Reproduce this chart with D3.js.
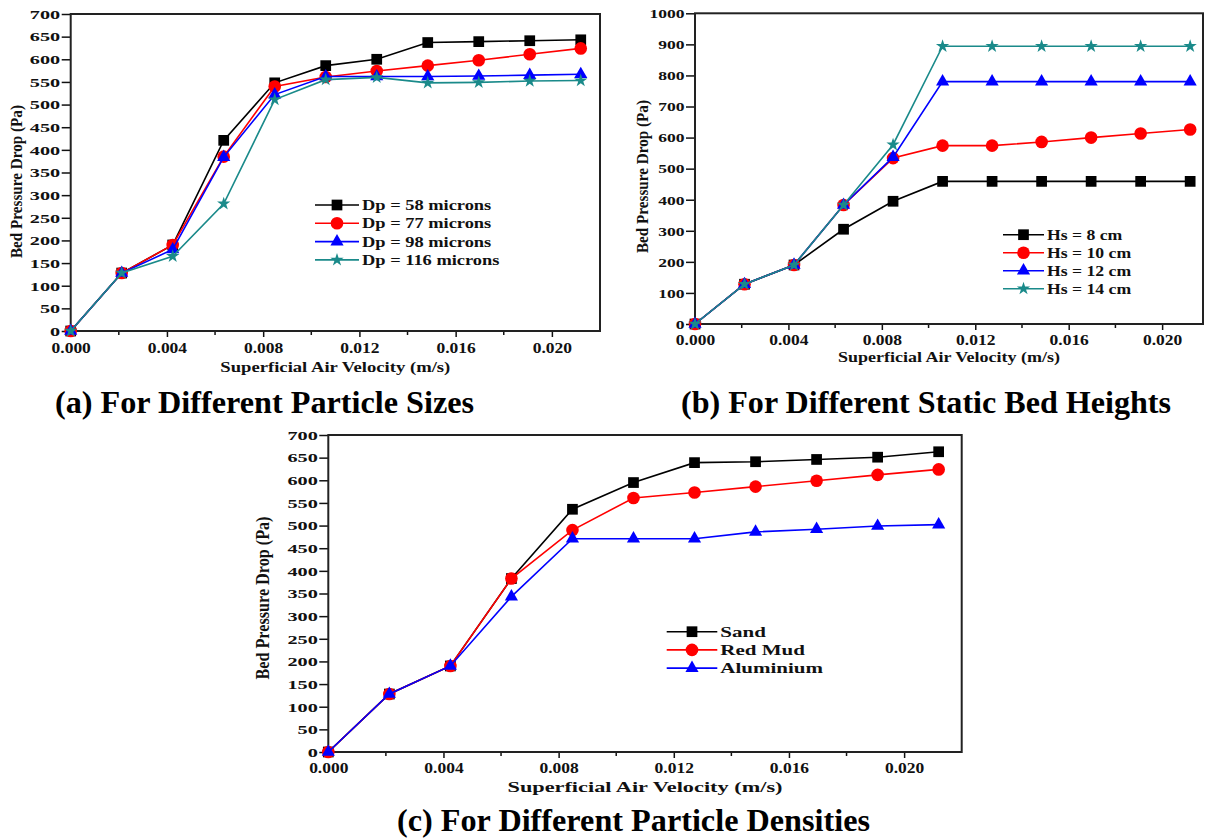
<!DOCTYPE html>
<html>
<head>
<meta charset="utf-8">
<script src="https://cdn.jsdelivr.net/npm/d3@7"></script>
<style>
  body { margin: 0; background: #fff; }
  svg text { font-family: "Liberation Serif", "Times New Roman", serif; }
</style>
</head>
<body>
<div id="chart"></div>
<script>
// superficial air velocity (m/s), shared by all three panels
const velocity = [0, 0.00212, 0.00424, 0.00636, 0.00848, 0.0106, 0.01272, 0.01484, 0.01696, 0.01908, 0.0212];

// (a) particle sizes
const dp58  = [0, 128, 190, 421, 548, 586, 600, 637, 639, 641, 643];
const dp77  = [0, 128, 190, 385, 540, 561, 574, 586, 598, 611, 624];
const dp98  = [0, 128, 180, 384, 522, 562, 562, 562, 563, 565, 567];
const dp116 = [0, 128, 165, 281, 511, 555, 560, 548, 549, 552, 553];

// (b) static bed heights
const hs8  = [0, 128, 190, 305, 395, 459, 459, 459, 459, 459, 459];
const hs10 = [0, 128, 190, 383, 534, 574, 574, 586, 600, 613, 626];
const hs12 = [0, 128, 190, 383, 537, 780, 780, 780, 780, 780, 780];
const hs14 = [0, 128, 190, 383, 577, 894, 894, 894, 894, 894, 894];

// (c) particle densities
const sand      = [0, 128, 190, 383, 536, 595, 639, 641, 646, 651, 663];
const redMud    = [0, 128, 190, 383, 490, 561, 573, 586, 599, 612, 624];
const aluminium = [0, 128, 190, 343, 471, 471, 471, 486, 492, 499, 502];

const xTicks = [0, 0.004, 0.008, 0.012, 0.016, 0.020];
const xMinorTicks = [0.002, 0.006, 0.010, 0.014, 0.018];

const FONT = '"Liberation Serif","Times New Roman",serif';
const TEAL = "#1a8a8a";

const svg = d3.select("#chart")
  .append("svg")
    .attr("width", 1205)
    .attr("height", 840)
    .style("background", "#fff");

function drawPanel(p) {
  const x = d3.scaleLinear().domain([0, p.xMax]).range([p.left, p.right]);
  const y = d3.scaleLinear().domain([0, p.yMax]).range([p.bottom, p.top]);
  const g = svg.append("g");

  // x axis
  const xAxis = g.append("g")
    .attr("transform", `translate(0,${p.bottom})`)
    .call(d3.axisBottom(x).tickValues(xTicks).tickFormat(d3.format(".3f")).tickSize(6).tickSizeOuter(0))
    .attr("font-family", FONT)
    .attr("font-size", 14)
    .attr("font-weight", "bold");
  xAxis.select(".domain").remove();
  xAxis.selectAll("line").attr("stroke", "#111").attr("stroke-width", 1.5);
  xAxis.selectAll("text")
    .attr("y", p.xTickY)
    .attr("dy", 0)
    .attr("fill", "#111")
    .attr("transform", `scale(${p.xTickScale},1)`);

  g.selectAll("line.minor")
    .data(xMinorTicks)
    .join("line")
      .attr("class", "minor")
      .attr("x1", d => x(d))
      .attr("x2", d => x(d))
      .attr("y1", p.bottom)
      .attr("y2", p.bottom + 4)
      .attr("stroke", "#111")
      .attr("stroke-width", 1.5);

  // y axis
  const yAxis = g.append("g")
    .attr("transform", `translate(${p.left},0)`)
    .call(d3.axisLeft(y).tickValues(d3.range(0, p.yMax + 1, p.yStep)).tickFormat(d3.format("d")).tickSize(9).tickSizeOuter(0))
    .attr("font-family", FONT)
    .attr("font-size", 13.5)
    .attr("font-weight", "bold");
  yAxis.select(".domain").remove();
  yAxis.selectAll("line").attr("stroke", "#111").attr("stroke-width", 1.5);
  yAxis.selectAll("text")
    .attr("x", -10.5 / p.yTickScale)
    .attr("fill", "#111")
    .attr("transform", `scale(${p.yTickScale},1)`);

  // frame
  g.append("rect")
    .attr("x", p.left)
    .attr("y", p.top)
    .attr("width", p.right - p.left)
    .attr("height", p.bottom - p.top)
    .attr("fill", "none")
    .attr("stroke", "#222")
    .attr("stroke-width", 2);

  // lines + markers
  const line = d3.line()
    .x((d, i) => x(velocity[i]))
    .y(d => y(d));

  p.series.forEach(s => {
    g.append("path")
      .datum(s.values)
      .attr("d", line)
      .attr("fill", "none")
      .attr("stroke", s.color)
      .attr("stroke-width", 1.6);
    g.selectAll(null)
      .data(s.values)
      .join("path")
        .attr("d", d3.symbol().type(s.symbol).size(s.size))
        .attr("transform", (d, i) => `translate(${x(velocity[i])},${y(d)})`)
        .attr("fill", s.color);
  });

  // legend
  const lg = p.legend;
  p.series.forEach((s, i) => {
    const ly = lg.y + i * lg.dy;
    g.append("line")
      .attr("x1", lg.x)
      .attr("x2", lg.x + lg.w)
      .attr("y1", ly)
      .attr("y2", ly)
      .attr("stroke", s.color)
      .attr("stroke-width", 1.6);
    g.append("path")
      .attr("d", d3.symbol().type(s.symbol).size(s.size))
      .attr("transform", `translate(${lg.x + lg.w / 2},${ly})`)
      .attr("fill", s.color);
    g.append("text")
      .attr("transform", `translate(${lg.x + lg.w + 3},${ly}) scale(${lg.scale},1)`)
      .attr("dy", "0.35em")
      .attr("font-size", 14.5)
      .attr("font-weight", "bold")
      .attr("fill", "#111")
      .text(s.name);
  });

  // axis titles
  g.append("text")
    .attr("x", (p.left + p.right) / 2 - p.xTitle.len / 2)
    .attr("y", p.xTitle.y)
    .attr("textLength", p.xTitle.len)
    .attr("lengthAdjust", "spacingAndGlyphs")
    .attr("font-size", 15)
    .attr("font-weight", "bold")
    .attr("fill", "#111")
    .text("Superficial Air Velocity (m/s)");

  g.append("text")
    .attr("transform", `translate(${p.yTitle.x},${p.yTitle.cy + p.yTitle.len / 2}) rotate(-90)`)
    .attr("textLength", p.yTitle.len)
    .attr("lengthAdjust", "spacingAndGlyphs")
    .attr("font-size", p.yTitle.size)
    .attr("font-weight", p.yTitle.weight)
    .attr("fill", "#111")
    .text("Bed Pressure Drop (Pa)");

  // caption
  svg.append("text")
    .attr("x", p.caption.x)
    .attr("y", p.caption.y)
    .attr("textLength", p.caption.len)
    .attr("lengthAdjust", "spacingAndGlyphs")
    .attr("font-size", 31)
    .attr("font-weight", "bold")
    .attr("fill", "#000")
    .text(p.caption.text);
}

const SQ = d3.symbolSquare, CI = d3.symbolCircle, TR = d3.symbolTriangle, ST = d3.symbolStar;

drawPanel({
  left: 70.7, right: 600, top: 14, bottom: 331,
  xMax: 0.022, yMax: 700, yStep: 50,
  xTickY: 22, xTickScale: 1.25, yTickScale: 1.5,
  series: [
    { name: "Dp = 58 microns",  values: dp58,  color: "#000",    symbol: SQ, size: 115 },
    { name: "Dp = 77 microns",  values: dp77,  color: "#ff0000", symbol: CI, size: 125 },
    { name: "Dp = 98 microns",  values: dp98,  color: "#0000ff", symbol: TR, size: 75 },
    { name: "Dp = 116 microns", values: dp116, color: TEAL,      symbol: ST, size: 55 }
  ],
  legend: { x: 315, w: 44, y: 205, dy: 18.3, scale: 1.27 },
  xTitle: { y: 372, len: 230 },
  yTitle: { x: 22, cy: 181.5, len: 153, size: 17, weight: "bold" },
  caption: { x: 55, y: 413, len: 419, text: "(a) For Different Particle Sizes" }
});

drawPanel({
  left: 695, right: 1203, top: 13.3, bottom: 324,
  xMax: 0.02175, yMax: 1000, yStep: 100,
  xTickY: 21, xTickScale: 1.25, yTickScale: 1.3,
  series: [
    { name: "Hs = 8 cm",  values: hs8,  color: "#000",    symbol: SQ, size: 115 },
    { name: "Hs = 10 cm", values: hs10, color: "#ff0000", symbol: CI, size: 125 },
    { name: "Hs = 12 cm", values: hs12, color: "#0000ff", symbol: TR, size: 75 },
    { name: "Hs = 14 cm", values: hs14, color: TEAL,      symbol: ST, size: 55 }
  ],
  legend: { x: 1003, w: 41, y: 234.7, dy: 18, scale: 1.22 },
  xTitle: { y: 362, len: 222 },
  yTitle: { x: 648, cy: 176.5, len: 153, size: 17, weight: "bold" },
  caption: { x: 681, y: 413, len: 490, text: "(b) For Different Static Bed Heights" }
});

drawPanel({
  left: 328.3, right: 961.7, top: 435, bottom: 752,
  xMax: 0.022, yMax: 700, yStep: 50,
  xTickY: 21, xTickScale: 1.25, yTickScale: 1.5,
  series: [
    { name: "Sand",      values: sand,      color: "#000",    symbol: SQ, size: 115 },
    { name: "Red Mud",   values: redMud,    color: "#ff0000", symbol: CI, size: 125 },
    { name: "Aluminium", values: aluminium, color: "#0000ff", symbol: TR, size: 75 }
  ],
  legend: { x: 666.7, w: 50.6, y: 631.7, dy: 18.2, scale: 1.45 },
  xTitle: { y: 792, len: 275 },
  yTitle: { x: 269, cy: 598, len: 163, size: 18, weight: "bold" },
  caption: { x: 397, y: 831, len: 473, text: "(c) For Different Particle Densities" }
});
</script>
</body>
</html>
